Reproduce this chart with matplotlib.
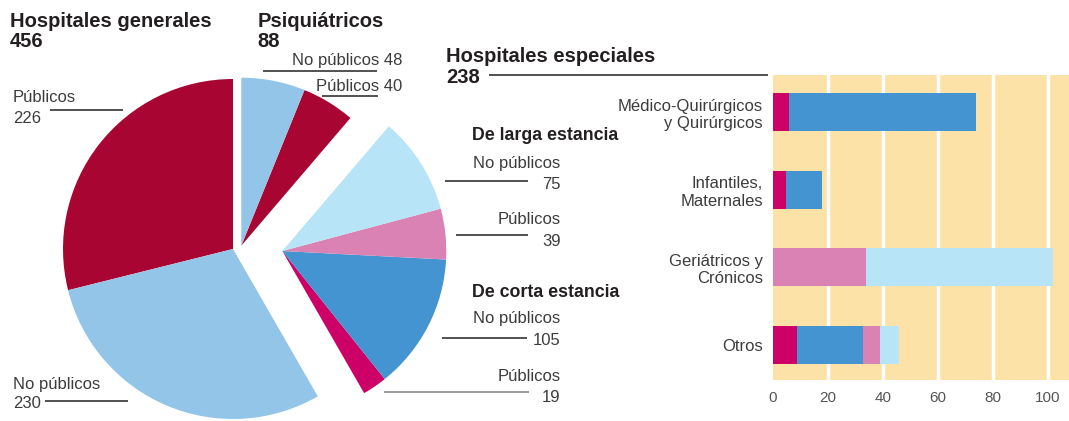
import matplotlib.pyplot as plt

W, H = 1069, 421

# pie: counter-clockwise from 12 o'clock
sectores = ['Generales públicos', 'Generales no públicos',
            'Corta estancia públicos', 'Corta estancia no públicos',
            'Larga estancia públicos', 'Larga estancia no públicos',
            'Psiquiátricos públicos', 'Psiquiátricos no públicos']
valores = [226, 230, 19, 105, 39, 75, 40, 48]
colores = ['#a80533', '#93c5e8', '#cc0066', '#4394d0',
           '#db82b5', '#b8e4f8', '#a80533', '#93c5e8']

# bars: hospitales especiales by type
categorias = ['Médico-Quirúrgicos\ny Quirúrgicos', 'Infantiles,\nMaternales',
              'Geriátricos y\nCrónicos', 'Otros']
corta_pub = [6, 5, 0, 9]
corta_nopub = [68, 13, 0, 24]
larga_pub = [0, 0, 34, 6]
larga_nopub = [0, 0, 68, 7]

plt.rcParams['font.family'] = ['Liberation Sans', 'DejaVu Sans']
TIT = '#231f20'
LAB = '#3c3c3c'
LIN = '#333333'

fig = plt.figure(figsize=(W / 100, H / 100), dpi=100)
ax = fig.add_axes([0, 0, 1, 1])
wedges, _ = ax.pie(valores, colors=colores, startangle=90, counterclock=True,
                   wedgeprops=dict(linewidth=0))
# pull the three groups apart (pixel coords, y up)
grupos = {(0, 1): ((233, H - 249), 170),
          (2, 3, 4, 5): ((282.3, H - 251), 164),
          (6, 7): ((241.3, H - 245.7), 168)}
for idx, (c, r) in grupos.items():
    for i in idx:
        wedges[i].set_center(c)
        wedges[i].set_radius(r)
ax.set_xlim(0, W)
ax.set_ylim(0, H)
ax.set_aspect('auto')
ax.axis('off')


def txt(x, y, s, size=12, bold=False, color=LAB, ha='left'):
    ax.text(x, H - y, s, fontsize=size, fontweight='bold' if bold else 'normal',
            color=color, ha=ha, va='baseline')


def linea(x0, x1, y, color=LIN):
    ax.plot([x0, x1], [H - y, H - y], color=color, lw=1.2, solid_capstyle='butt')


# titles
txt(10, 27, 'Hospitales generales', 14.5, True, TIT)
txt(10, 46.7, '456', 14.5, True, TIT)
txt(257.7, 27, 'Psiquiátricos', 14.5, True, TIT)
txt(257.7, 46.7, '88', 14.5, True, TIT)
txt(446, 61.7, 'Hospitales especiales', 14.5, True, TIT)
txt(446, 83, '238', 14.5, True, TIT)
linea(489, 768, 75)

# generales
txt(12.7, 101.7, 'Públicos')
txt(12.7, 122.7, '226')
linea(50, 123, 110)
txt(12.7, 389, 'No públicos')
txt(12.7, 408, '230')
linea(45, 128, 401)

# psiquiatricos
txt(402.5, 65, 'No públicos 48', ha='right')
linea(263, 376.5, 70.7)
txt(402.5, 90.7, 'Públicos 40', ha='right')
linea(322, 377.5, 96)

# especiales
txt(618.5, 140, 'De larga estancia', 12.8, True, TIT, ha='right')
txt(560.5, 168.3, 'No públicos', ha='right')
txt(560.5, 189.3, '75', ha='right')
linea(445, 528, 181)
txt(560.5, 224, 'Públicos', ha='right')
txt(560.5, 245.7, '39', ha='right')
linea(456, 528, 235)
txt(619, 297, 'De corta estancia', 12.8, True, TIT, ha='right')
txt(560.5, 323.3, 'No públicos', ha='right')
txt(560.5, 345, '105', ha='right')
linea(442, 527, 338)
txt(560.5, 380.7, 'Públicos', ha='right')
txt(560.5, 401.7, '19', ha='right')
linea(384, 529, 392, '#8a8a8a')

# bar chart
ax2 = fig.add_axes([772.7 / W, (H - 380) / H, (W - 772.7) / W, 305 / H])
ax2.set_facecolor('#fde2a8')
pos = range(len(categorias))
izq = [0] * len(categorias)
for serie, col in [(corta_pub, '#cc0066'), (corta_nopub, '#4394d0'),
                   (larga_pub, '#db82b5'), (larga_nopub, '#b8e4f8')]:
    ax2.barh(pos, serie, left=izq, height=0.49, color=col, linewidth=0, zorder=3)
    izq = [a + b for a, b in zip(izq, serie)]
ax2.set_xlim(0, 107.8)
ax2.set_ylim(3.45, -0.48)
ax2.set_xticks([0, 20, 40, 60, 80, 100])
ax2.set_yticks(list(pos))
ax2.set_yticklabels(categorias, fontsize=12, color=LAB)
ax2.tick_params(axis='y', length=0, pad=7)
ax2.tick_params(axis='x', length=0, pad=8, labelsize=11, labelcolor='#555555')
ax2.grid(axis='x', color='white', lw=2.5, zorder=1)
ax2.set_axisbelow(True)
ax2.xaxis.get_gridlines()[0].set_visible(False)
for s in ax2.spines.values():
    s.set_visible(False)
for t in ax2.get_yticklabels():
    t.set_multialignment('right')

fig.savefig('out.png', dpi=100)
